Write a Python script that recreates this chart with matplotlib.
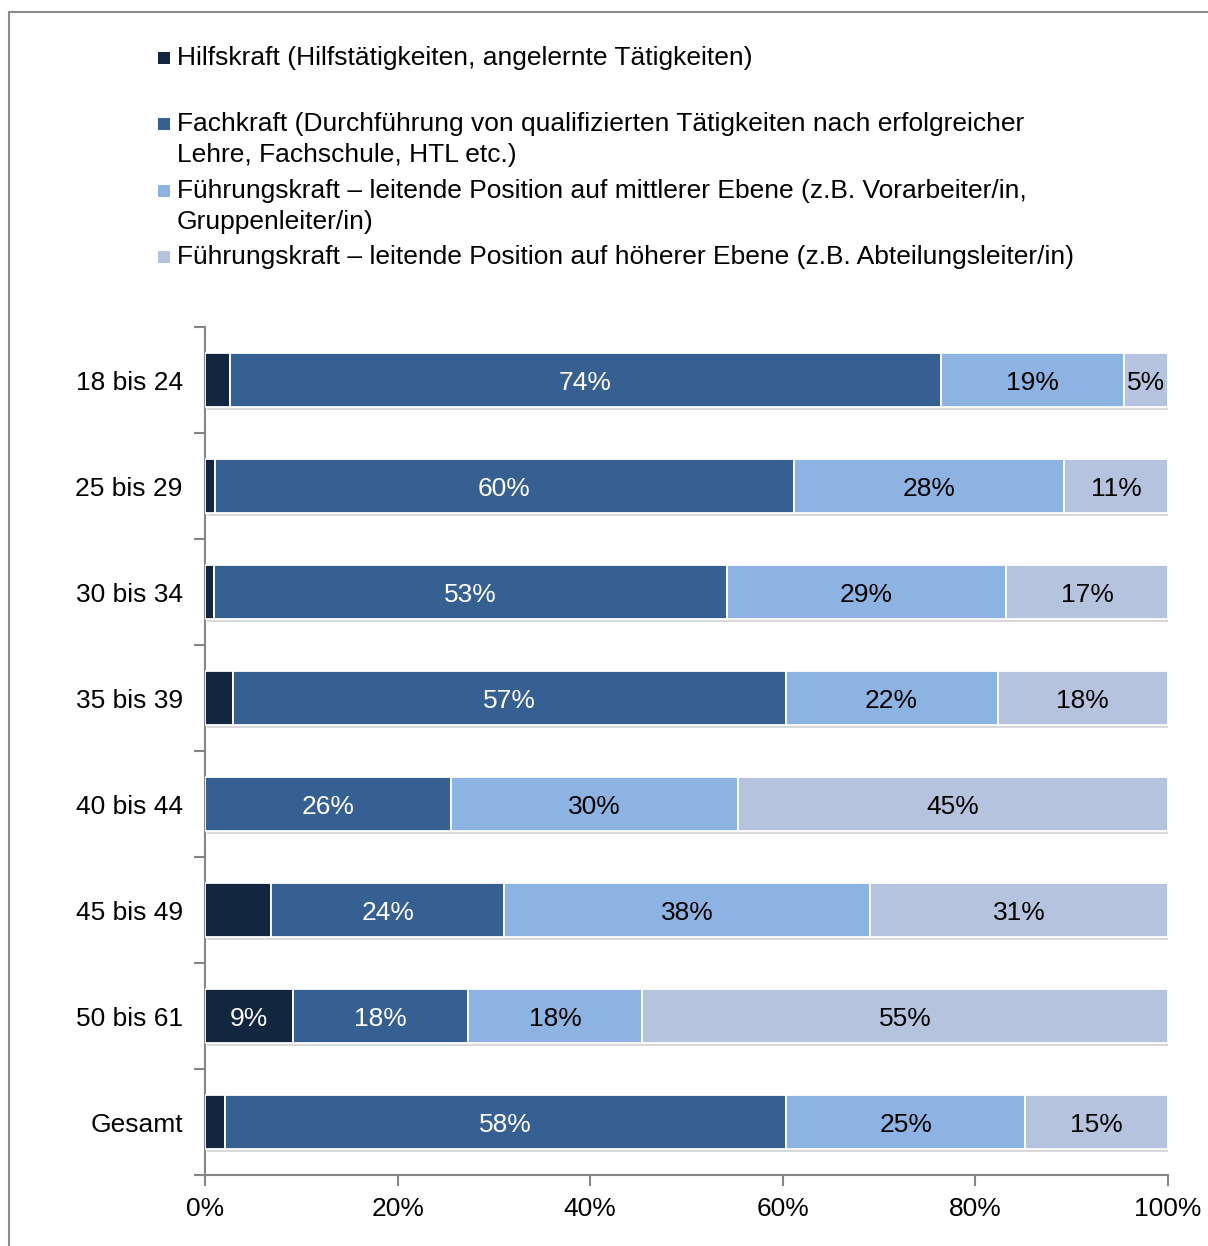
import matplotlib
matplotlib.use("Agg")
import matplotlib.pyplot as plt
import matplotlib.patheffects as pe
from matplotlib.patches import Rectangle
import numpy as np

plt.rcParams['font.family'] = ['Liberation Sans', 'DejaVu Sans']

# Altersgruppen (von oben nach unten)
gruppen = ["18 bis 24", "25 bis 29", "30 bis 34", "35 bis 39",
           "40 bis 44", "45 bis 49", "50 bis 61", "Gesamt"]

# Anteile in % je Position
hilfs = [2.6, 1.0, 0.9, 2.9, 0.0, 6.9, 9.1, 2.1]
fach = [73.8, 60.2, 53.3, 57.4, 25.5, 24.2, 18.2, 58.2]
mittel = [19.0, 28.0, 29.0, 22.0, 29.8, 38.0, 18.1, 24.9]
hoeher = [4.6, 10.8, 16.8, 17.7, 44.7, 30.9, 54.6, 14.8]

legende = [
    "Hilfskraft (Hilfstätigkeiten, angelernte Tätigkeiten)",
    "Fachkraft (Durchführung von qualifizierten Tätigkeiten nach erfolgreicher\nLehre, Fachschule, HTL etc.)",
    "Führungskraft – leitende Position auf mittlerer Ebene (z.B. Vorarbeiter/in,\nGruppenleiter/in)",
    "Führungskraft – leitende Position auf höherer Ebene (z.B. Abteilungsleiter/in)",
]
farben = ["#12263f", "#376092", "#8db3e2", "#b5c3df"]
textfarben = ["white", "white", "black", "black"]
min_label = [8, 4, 4, 4]

serien = [hilfs, fach, mittel, hoeher]
fs = 19

fig = plt.figure(figsize=(12.08, 12.46), dpi=100)
ax = fig.add_axes([205 / 1208, 1 - 1175 / 1246, 963 / 1208, (1175 - 327) / 1246])

y = np.arange(len(gruppen))
links = np.zeros(len(gruppen))
schatten = [pe.SimplePatchShadow(offset=(1.5, -2), alpha=0.22, shadow_rgbFace="#555555"), pe.Normal()]
for i, werte in enumerate(serien):
    werte = np.array(werte)
    bars = ax.barh(y, werte, left=links, height=0.51, color=farben[i],
                   edgecolor="white", linewidth=1.3, zorder=3)
    for b in bars:
        b.set_path_effects(schatten)
    for k, v in enumerate(werte):
        if v >= min_label[i]:
            ax.text(links[k] + v / 2, y[k], "%d%%" % round(v), ha="center",
                    va="center_baseline", color=textfarben[i], fontsize=fs, zorder=5)
    links += werte

ax.set_xlim(0, 100)
ax.set_ylim(len(gruppen) - 0.5, -0.5)
ax.set_xticks(np.arange(0, 101, 20))
ax.set_xticklabels(["%d%%" % t for t in range(0, 101, 20)], fontsize=fs)
ax.set_yticks(np.arange(-0.5, len(gruppen), 1))
ax.set_yticklabels([])
ax.set_yticks(y, minor=True)
ax.set_yticklabels(gruppen, minor=True, fontsize=fs)
ax.tick_params(axis="y", which="minor", length=0, pad=16)
ax.tick_params(axis="y", which="major", length=8, color="#868686", width=1.5, direction="out")
ax.tick_params(axis="x", length=8, color="#868686", width=1.5, direction="out", pad=8)
for s in ["top", "right"]:
    ax.spines[s].set_visible(False)
for s in ["left", "bottom"]:
    ax.spines[s].set_color("#868686")
    ax.spines[s].set_linewidth(1.5)

# Legende von Hand
zeilen_y = [58, 124, 191, 257]
for i, txt in enumerate(legende):
    yy = 1 - zeilen_y[i] / 1246
    fig.patches.append(Rectangle((158 / 1208, yy - 6 / 1246), 12 / 1208, 12 / 1246,
                                 transform=fig.transFigure, facecolor=farben[i],
                                 edgecolor="none"))
    fig.text(177 / 1208, 1 - (zeilen_y[i] - 12) / 1246, txt, fontsize=fs, va="top",
             ha="left", linespacing=1.35)

# Rahmen
fig.patches.append(Rectangle((9 / 1208, -0.1), 1.2, 1 - 12 / 1246 + 0.1,
                             transform=fig.transFigure, fill=False,
                             edgecolor="#8c8c8c", linewidth=1.5))

fig.savefig("out.png", dpi=100)
